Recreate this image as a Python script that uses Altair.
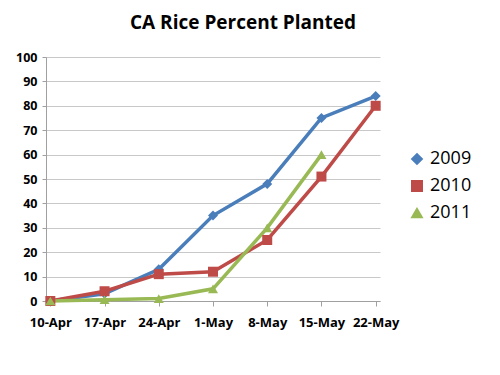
import altair as alt
import pandas as pd

weeks = ["10-Apr", "17-Apr", "24-Apr", "1-May", "8-May", "15-May", "22-May"]
y2009 = [0, 3, 13, 35, 48, 75, 84]
y2010 = [0, 4, 11, 12, 25, 51, 80]
y2011 = [0, 0.5, 1, 5, 30, 60, None]

rows = []
for name, vals in [("2009", y2009), ("2010", y2010), ("2011", y2011)]:
    for w, v in zip(weeks, vals):
        if v is not None:
            rows.append({"week": w, "pct": v, "year": name})
df = pd.DataFrame(rows)

years = ["2009", "2010", "2011"]
colors = ["#4A7EBB", "#BE4B48", "#98B954"]
shapes = ["diamond", "square", "triangle-up"]

font = "Open Sans"

x = alt.X("week:O", sort=weeks, title=None,
          scale=alt.Scale(type="point", padding=0.08),
          axis=alt.Axis(labelAngle=0, labelFont=font, labelFontWeight="bold",
                        labelFontSize=13, labelColor="#000000", labelPadding=10,
                        domainColor="#A0A0A0", tickColor="#A0A0A0", tickSize=5,
                        grid=False))
y = alt.Y("pct:Q", title=None,
          scale=alt.Scale(domain=[0, 100], nice=False),
          axis=alt.Axis(values=list(range(0, 101, 10)), labelFont=font,
                        labelFontWeight="bold", labelFontSize=12.5,
                        labelColor="#000000", labelPadding=5,
                        domainColor="#A0A0A0", tickColor="#A0A0A0", tickSize=4,
                        gridColor="#C8C8C8"))
leg = dict(title=None, orient="none", legendX=362, legendY=93,
           labelFont=font, labelFontSize=18, labelColor="#000000",
           symbolSize=110, rowPadding=9, labelOffset=4)
color = alt.Color("year:N", scale=alt.Scale(domain=years, range=colors),
                  legend=alt.Legend(**leg))
shape = alt.Shape("year:N", scale=alt.Scale(domain=years, range=shapes),
                  legend=alt.Legend(**leg))

lines = alt.Chart(df).mark_line(strokeWidth=3.5).encode(x=x, y=y, color=color, detail="year:N")
points = alt.Chart(df).mark_point(filled=True, size=100, opacity=1).encode(
    x=x, y=y, color=color, shape=shape)

chart = (lines + points).properties(
    width=334, height=244,
    title=alt.TitleParams("CA Rice Percent Planted", font=font, fontSize=19,
                          fontWeight="bold", color="#000000", anchor="middle", offset=18, dx=30),
    autosize=alt.AutoSizeParams(type="none"),
    padding={"left": 38, "top": 49, "right": 112, "bottom": 66},
).configure_view(stroke=None)

chart.save("out.html", embed_options={"renderer": "svg", "actions": False})
